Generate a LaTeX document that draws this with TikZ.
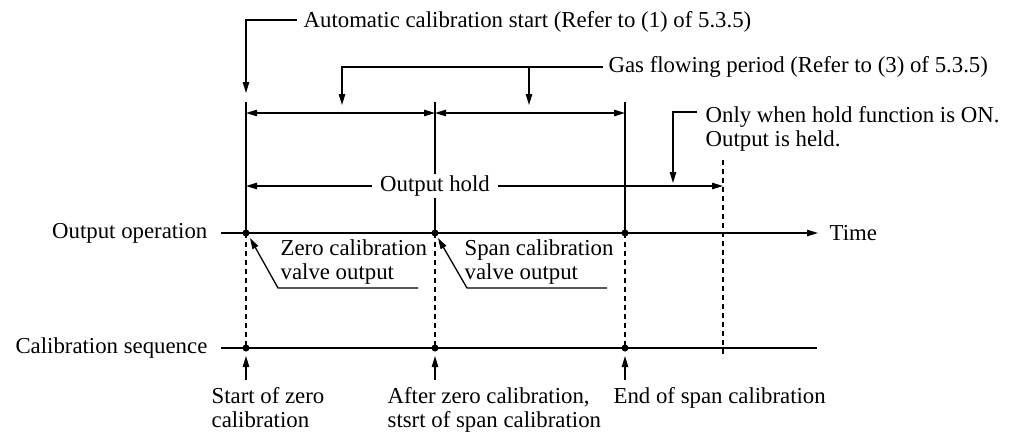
\documentclass[tikz,border=0pt]{standalone}
\usepackage{fontspec}
\setmainfont{Liberation Serif}
\usetikzlibrary{arrows.meta, positioning}

\begin{document}
\begin{tikzpicture}[x=0.5pt, y=-0.5pt, line width=0.65pt,
    font=\fontsize{11.4}{11.8}\selectfont,
    tip/.style={-{Triangle[length=5.5pt,width=3.2pt]}},
    dtip/.style={{Triangle[length=5.5pt,width=3.2pt]}-{Triangle[length=5.5pt,width=3.2pt]}},
    dashline/.style={dash pattern=on 2.5pt off 2pt},
    dot/.style={fill=black},
    lbl/.style={inner sep=0pt},
    txt/.style={inner sep=0pt, align=left, anchor=base west}]
    \useasboundingbox (0,0) rectangle (1020,435);

    % --- 1. time points and levels ---
    \def\xA{246} \def\xB{435} \def\xC{625} \def\xD{723}
    \def\yDim{113} \def\yHold{186} \def\yOp{233} \def\yCal{348}

    \coordinate (opS) at (221,\yOp);
    \coordinate (opE) at (818,\yOp);
    \coordinate (calS) at (221,\yCal);
    \coordinate (calE) at (817,\yCal);

    % --- 2. the two time axes ---
    \node[lbl, left=6.5pt of opS] (opL) {Output operation};
    \node[lbl, right=5.5pt of opE] (time) {Time};
    \draw[tip] (opS) -- (opE);
    \node[lbl, left=6.5pt of calS] (calL) {Calibration sequence};
    \draw (calS) -- (calE);

    % --- 3. solid marks above the axis, dashed marks below ---
    \foreach \x/\n in {\xA/a, \xB/b, \xC/c} {
        \coordinate (top\n) at (\x,102);
        \coordinate (op\n) at (\x,\yOp);
        \coordinate (cal\n) at (\x,\yCal);
        \draw (top\n) -- (op\n);
        \draw[dashline] (op\n) -- (cal\n);
    }
    \coordinate (endT) at (\xD,160);
    \coordinate (endB) at (\xD,358);
    \draw[dashline] (endT) -- (endB);

    % --- 4. gas flowing periods ---
    \coordinate (dimA) at (\xA,\yDim);
    \coordinate (dimB) at (\xB,\yDim);
    \coordinate (dimC) at (\xC,\yDim);
    \draw[dtip] (dimA) -- (dimB);
    \draw[dtip] (dimB) -- (dimC);

    \coordinate (gasK) at (603,67);
    \node[lbl, right=2.5pt of gasK] (gas) {Gas flowing period (Refer to (3) of 5.3.5)};
    \coordinate (gasM) at (529,67);
    \coordinate (gasT1) at (342,105);
    \coordinate (gasT2) at (529,105);
    \draw[tip] (gasK) -| (gasT1);
    \draw[tip] (gasM) -- (gasT2);

    % --- 5. automatic calibration start ---
    \coordinate (autoK) at (297,20);
    \coordinate (autoT) at (\xA,93);
    \node[txt] (auto) at (303,27) {Automatic calibration start (Refer to (1) of 5.3.5)};
    \draw[tip] (autoK) -| (autoT);

    % --- 6. output hold ---
    \coordinate (holdS) at (\xA,\yHold);
    \coordinate (holdE) at (\xD,\yHold);
    \draw[dtip] (holdS) -- (holdE);
    \node[fill=white, inner xsep=4pt, inner ysep=1pt] (hold) at (\xB,\yHold) {Output hold};

    % base of a two-line node is its last line
    \coordinate (onlyK) at (697,112);
    \coordinate (onlyT) at (673,183);
    \node[txt] (only) at (705,146) {Only when hold function is ON.\\Output is held.};
    \draw[tip] (onlyK) -| (onlyT);

    % --- 7. valve outputs ---
    \node[txt] (zero) at (280,279) {Zero calibration\\valve output};
    \coordinate (zeroR) at (418,288);
    \coordinate (zeroK) at (278,288);
    \coordinate (zeroT) at (250,238);
    \draw[tip] (zeroR) -- (zeroK) -- (zeroT);

    \node[txt] (span) at (464,279) {Span calibration\\valve output};
    \coordinate (spanR) at (607,288);
    \coordinate (spanK) at (467,288);
    \coordinate (spanT) at (438,238);
    \draw[tip] (spanR) -- (spanK) -- (spanT);

    % --- 8. calibration sequence events ---
    \foreach \x/\n in {\xA/a, \xB/b, \xC/c} {
        \coordinate (up\n) at (\x,380);
        \coordinate (upT\n) at (\x,356);
        \draw[tip] (up\n) -- (upT\n);
    }
    \node[txt] (seqA) at (211,427) {Start of zero\\calibration};
    \node[txt] (seqB) at (387,427) {After zero calibration,\\stsrt of span calibration};
    \node[txt] (seqC) at (613,403) {End of span calibration};

    % --- 9. points on the axes ---
    \foreach \n in {a, b, c} {
        \fill[dot] (op\n) circle[radius=1.75pt];
        \fill[dot] (cal\n) circle[radius=1.75pt];
    }
\end{tikzpicture}
\end{document}
